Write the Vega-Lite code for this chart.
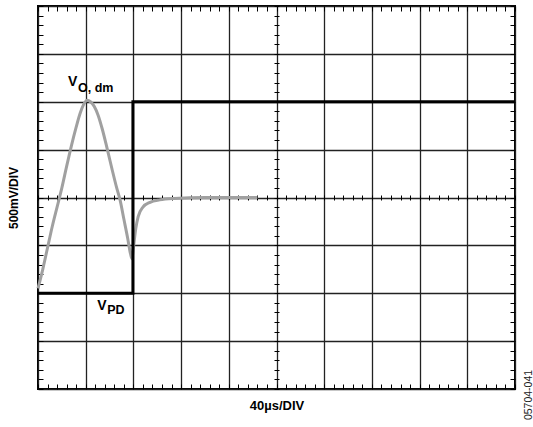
{
  "$schema": "https://vega.github.io/schema/vega-lite/v6.json",
  "width": 477,
  "height": 383,
  "autosize": "none",
  "padding": {"left": 38, "top": 6, "right": 18, "bottom": 38},
  "background": "white",
  "config": {
    "view": {"stroke": "black", "strokeWidth": 2},
    "axis": {
      "labels": false, "domain": false, "grid": false, "ticks": true,
      "tickColor": "black", "tickWidth": 1, "title": null,
      "titleFont": "Liberation Sans", "titleFontWeight": "bold", "titleFontSize": 12, "titleColor": "black"
    }
  },
  "datasets": {
    "grey": [
      {"t": 0, "v": 2.1}, {"t": 0.1, "v": 2.5}, {"t": 0.2, "v": 2.95}, {"t": 0.3, "v": 3.4},
      {"t": 0.4, "v": 3.8}, {"t": 0.5, "v": 4.2}, {"t": 0.6, "v": 4.65}, {"t": 0.7, "v": 5.08},
      {"t": 0.8, "v": 5.47}, {"t": 0.88, "v": 5.75}, {"t": 0.95, "v": 5.93}, {"t": 1.03, "v": 6.03},
      {"t": 1.1, "v": 6.0}, {"t": 1.18, "v": 5.9}, {"t": 1.26, "v": 5.72}, {"t": 1.35, "v": 5.42},
      {"t": 1.45, "v": 5.02}, {"t": 1.55, "v": 4.6}, {"t": 1.65, "v": 4.2}, {"t": 1.72, "v": 3.95},
      {"t": 1.8, "v": 3.55}, {"t": 1.88, "v": 3.15}, {"t": 1.94, "v": 2.82}, {"t": 1.97, "v": 2.72},
      {"t": 2.0, "v": 2.95}, {"t": 2.05, "v": 3.35}, {"t": 2.1, "v": 3.6}, {"t": 2.2, "v": 3.8},
      {"t": 2.35, "v": 3.9}, {"t": 2.55, "v": 3.95}, {"t": 2.85, "v": 3.98}, {"t": 3.5, "v": 4.0},
      {"t": 4.6, "v": 4.0}
    ],
    "black": [
      {"t": 0, "v": 2.0, "o": 1}, {"t": 1.99, "v": 2.0, "o": 2}, {"t": 1.99, "v": 6.0, "o": 3}, {"t": 10, "v": 6.0, "o": 4}
    ],
    "mainLabels": [
      {"t": 0.63, "v": 6.33, "text": "V"},
      {"t": 1.24, "v": 1.65, "text": "V"}
    ],
    "subLabels": [
      {"t": 0.84, "v": 6.21, "text": "O, dm"},
      {"t": 1.45, "v": 1.57, "text": "PD"}
    ],
    "code": [
      {"t": 10.29, "v": -0.125, "text": "05704-041"}
    ]
  },
  "resolve": {"axis": {"x": "independent", "y": "independent"}},
  "layer": [
    {
      "data": {"name": "grey"},
      "mark": {"type": "line", "color": "#a0a0a0", "strokeWidth": 3, "interpolate": "monotone"},
      "encoding": {
        "x": {"field": "t", "type": "quantitative", "scale": {"domain": [0, 10], "nice": false, "zero": false},
          "axis": {"orient": "bottom", "values": [0,1,2,3,4,5,6,7,8,9,10], "grid": true, "ticks": false,
            "gridColor": "#222222", "gridWidth": 1.3, "gridOpacity": 1, "title": "40µs/DIV", "titleFontSize": 13, "titlePadding": 10}},
        "y": {"field": "v", "type": "quantitative", "scale": {"domain": [0, 8], "nice": false, "zero": false},
          "axis": {"orient": "left", "values": [0,1,2,3,4,5,6,7,8], "grid": true, "ticks": false,
            "gridColor": "#222222", "gridWidth": 1.3, "gridOpacity": 1, "title": "500mV/DIV", "titlePadding": 18}}
      }
    },
    {
      "data": {"name": "black"},
      "mark": {"type": "line", "color": "black", "strokeWidth": 3},
      "encoding": {
        "order": {"field": "o", "type": "quantitative"},
        "x": {"field": "t", "type": "quantitative",
          "axis": {"orient": "bottom", "tickSize": -5, "values": [0,0.2,0.4,0.6,0.8,1,1.2,1.4,1.6,1.8,2,2.2,2.4,2.6,2.8,3,3.2,3.4,3.6,3.8,4,4.2,4.4,4.6,4.8,5,5.2,5.4,5.6,5.8,6,6.2,6.4,6.6,6.8,7,7.2,7.4,7.6,7.8,8,8.2,8.4,8.6,8.8,9,9.2,9.4,9.6,9.8,10]}},
        "y": {"field": "v", "type": "quantitative",
          "axis": {"orient": "left", "tickSize": -5, "values": [0,0.2,0.4,0.6,0.8,1,1.2,1.4,1.6,1.8,2,2.2,2.4,2.6,2.8,3,3.2,3.4,3.6,3.8,4,4.2,4.4,4.6,4.8,5,5.2,5.4,5.6,5.8,6,6.2,6.4,6.6,6.8,7,7.2,7.4,7.6,7.8,8]}}
      }
    },
    {
      "data": {"name": "mainLabels"},
      "mark": {"type": "text", "font": "Liberation Sans", "fontWeight": "bold", "fontSize": 14, "align": "left", "baseline": "alphabetic", "color": "black"},
      "encoding": {
        "text": {"field": "text"},
        "x": {"field": "t", "type": "quantitative",
          "axis": {"orient": "top", "tickSize": -5, "values": [0,0.2,0.4,0.6,0.8,1,1.2,1.4,1.6,1.8,2,2.2,2.4,2.6,2.8,3,3.2,3.4,3.6,3.8,4,4.2,4.4,4.6,4.8,5,5.2,5.4,5.6,5.8,6,6.2,6.4,6.6,6.8,7,7.2,7.4,7.6,7.8,8,8.2,8.4,8.6,8.8,9,9.2,9.4,9.6,9.8,10]}},
        "y": {"field": "v", "type": "quantitative",
          "axis": {"orient": "right", "tickSize": -5, "values": [0,0.2,0.4,0.6,0.8,1,1.2,1.4,1.6,1.8,2,2.2,2.4,2.6,2.8,3,3.2,3.4,3.6,3.8,4,4.2,4.4,4.6,4.8,5,5.2,5.4,5.6,5.8,6,6.2,6.4,6.6,6.8,7,7.2,7.4,7.6,7.8,8]}}
      }
    },
    {
      "data": {"name": "subLabels"},
      "mark": {"type": "text", "font": "Liberation Sans", "fontWeight": "bold", "fontSize": 12.5, "align": "left", "baseline": "alphabetic", "color": "black"},
      "encoding": {
        "text": {"field": "text"},
        "x": {"field": "t", "type": "quantitative",
          "axis": {"orient": "bottom", "offset": -194, "tickSize": 5, "values": [0,0.2,0.4,0.6,0.8,1,1.2,1.4,1.6,1.8,2,2.2,2.4,2.6,2.8,3,3.2,3.4,3.6,3.8,4,4.2,4.4,4.6,4.8,5,5.2,5.4,5.6,5.8,6,6.2,6.4,6.6,6.8,7,7.2,7.4,7.6,7.8,8,8.2,8.4,8.6,8.8,9,9.2,9.4,9.6,9.8,10]}},
        "y": {"field": "v", "type": "quantitative",
          "axis": {"orient": "left", "offset": -241, "tickSize": 5, "values": [0,0.2,0.4,0.6,0.8,1,1.2,1.4,1.6,1.8,2,2.2,2.4,2.6,2.8,3,3.2,3.4,3.6,3.8,4,4.2,4.4,4.6,4.8,5,5.2,5.4,5.6,5.8,6,6.2,6.4,6.6,6.8,7,7.2,7.4,7.6,7.8,8]}}
      }
    },
    {
      "data": {"name": "code"},
      "mark": {"type": "text", "font": "Liberation Sans", "fontSize": 10.5, "angle": 270, "align": "center", "baseline": "middle", "color": "#222222"},
      "encoding": {
        "text": {"field": "text"},
        "x": {"field": "t", "type": "quantitative", "axis": null},
        "y": {"field": "v", "type": "quantitative", "axis": null}
      }
    }
  ]
}
